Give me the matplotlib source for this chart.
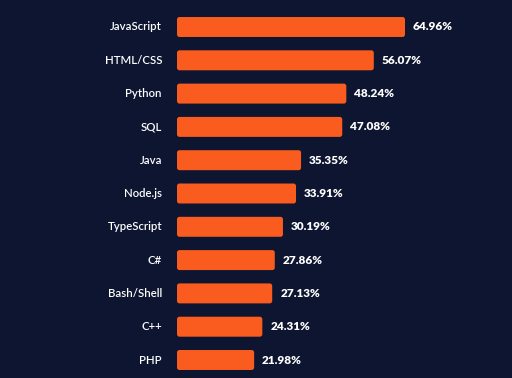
import matplotlib.pyplot as plt
from matplotlib.patches import FancyBboxPatch

languages = ["JavaScript", "HTML/CSS", "Python", "SQL", "Java", "Node.js",
             "TypeScript", "C#", "Bash/Shell", "C++", "PHP"]
shares = [64.96, 56.07, 48.24, 47.08, 35.35, 33.91, 30.19, 27.86, 27.13, 24.31, 21.98]

bg = "#0d1530"
bar_color = "#fa5b1e"

fig = plt.figure(figsize=(5.12, 3.78), dpi=100, facecolor=bg)
ax = fig.add_axes([177 / 512, 0, 1 - 177 / 512, 1], facecolor=bg)

px_x = 3.51   # pixels per percent
px_y = 33.3   # pixels per row
ax.set_xlim(0, (512 - 177) / px_x)
ax.set_ylim(10 + (378 - 360) / px_y, -27 / px_y)

bars = ax.barh(range(len(languages)), shares, height=0.6, color=bar_color)

# swap plain rectangles for rounded ones
r = 2.5 / px_x
for b in bars:
    x, y = b.get_x(), b.get_y()
    w, h = b.get_width(), b.get_height()
    b.remove()
    ax.add_patch(FancyBboxPatch((x, y), w, h,
                                boxstyle=f"round,pad=0,rounding_size={r}",
                                mutation_aspect=px_x / px_y,
                                facecolor=bar_color, edgecolor="none"))

for i, (lang, v) in enumerate(zip(languages, shares)):
    ax.text(-15 / px_x, i, lang, ha="right", va="center", color="white",
            fontsize=8.2, fontweight="semibold", family="Lato")
    ax.text(v + 8 / px_x, i, f"{v:.2f}%", ha="left", va="center", color="white",
            fontsize=8.5, fontweight="heavy", family="Lato")

ax.axis("off")
fig.savefig("out.png", dpi=100, facecolor=bg)
